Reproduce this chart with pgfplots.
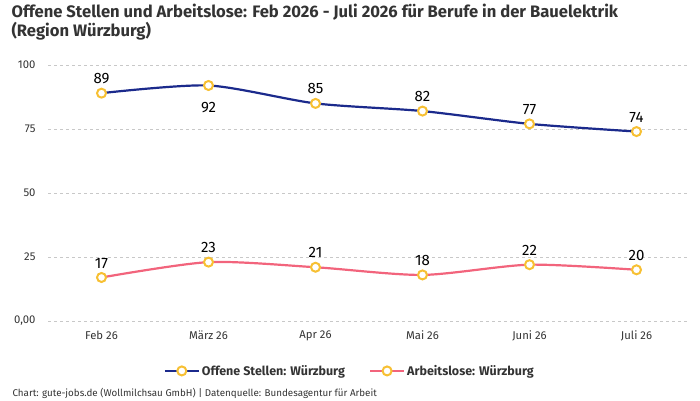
\documentclass[border=0pt]{standalone}
\usepackage{pgfplots}
\pgfplotsset{compat=1.18}
\usepackage{fontspec}
\setmainfont{Fira Sans}
\definecolor{navy}{HTML}{1B2A8C}
\definecolor{pinkline}{HTML}{F2647C}
\definecolor{goldmark}{HTML}{F7C033}
\definecolor{gridgray}{HTML}{C8C8C8}
\definecolor{textgray}{HTML}{333333}

% x  y  label offset
\pgfplotstableread{
x y off
0 89 5
1 92 -32
2 85 5
3 82 5
4 77 5
5 74 5
}\offene
\pgfplotstableread{
x y off
0 17 5
1 23 5
2 21 5
3 18 5
4 22 5
5 20 5
}\arbeitslose

\begin{document}
\begin{tikzpicture}
\path[use as bounding box] (0pt,0pt) rectangle (700pt,400pt);
\node[anchor=north west,align=left,text=textgray,font=\fontsize{16.6}{19}\selectfont\bfseries]
  at (8pt,399pt) {Offene Stellen und Arbeitslose: Feb 2026 - Juli 2026 für Berufe in der Bauelektrik\\(Region Würzburg)};
\node[anchor=west,text=textgray,font=\fontsize{9.8}{11}\selectfont] at (9pt,7pt)
  {Chart: gute-jobs.de (Wollmilchsau GmbH) | Datenquelle: Bundesagentur für Arbeit};
\begin{axis}[
  at={(48pt,79pt)}, anchor=south west,
  scale only axis, width=642pt, height=256pt,
  xmin=-0.5, xmax=5.5, ymin=0, ymax=100,
  axis line style={draw=none},
  tick style={draw=none},
  xtick={0,...,5},
  xticklabels={Feb 26, März 26, Apr 26, Mai 26, Juni 26, Juli 26},
  ytick={0,25,50,75,100},
  yticklabels={{0,00},25,50,75,100},
  ymajorgrids, grid style={gridgray, dashed, line width=0.6pt},
  tick label style={font=\fontsize{11.3}{13}\selectfont, text=textgray},
  yticklabel style={xshift=-9pt},
  xticklabel style={yshift=-6pt},
  clip=false,
  /pgf/number format/assume math mode=true,
  nodes near coords,
  point meta=explicit,
  every node near coord/.style={font=\fontsize{15}{17}\selectfont, text=black, anchor=south},
  visualization depends on={\thisrow{off} \as \off},
  legend style={at={(0.47,-0.195)}, anchor=center, draw=none, legend columns=2,
    font=\fontsize{12.5}{14}\selectfont\bfseries, text=textgray,
    /tikz/every even column/.append style={column sep=22pt}},
  legend cell align=left,
  legend image code/.code={
    \draw[#1, mark=none] (0pt,0pt) -- (34pt,0pt);
    \draw[draw=goldmark, fill=white, line width=2pt] (17pt,0pt) circle (4.5pt);
  },
]
\addplot[navy, line width=2.2pt, smooth, tension=0.45, mark=*,
  mark options={draw=goldmark, fill=white, line width=2pt, solid}, mark size=4.5pt,
  nodes near coords style={yshift=\off pt}]
  table[x=x, y=y, meta=y] {\offene};
\addlegendentry{Offene Stellen: Würzburg}
\addplot[pinkline, line width=2.2pt, smooth, tension=0.45, mark=*,
  mark options={draw=goldmark, fill=white, line width=2pt, solid}, mark size=4.5pt,
  nodes near coords style={yshift=\off pt}]
  table[x=x, y=y, meta=y] {\arbeitslose};
\addlegendentry{Arbeitslose: Würzburg}
\end{axis}
\end{tikzpicture}
\end{document}
